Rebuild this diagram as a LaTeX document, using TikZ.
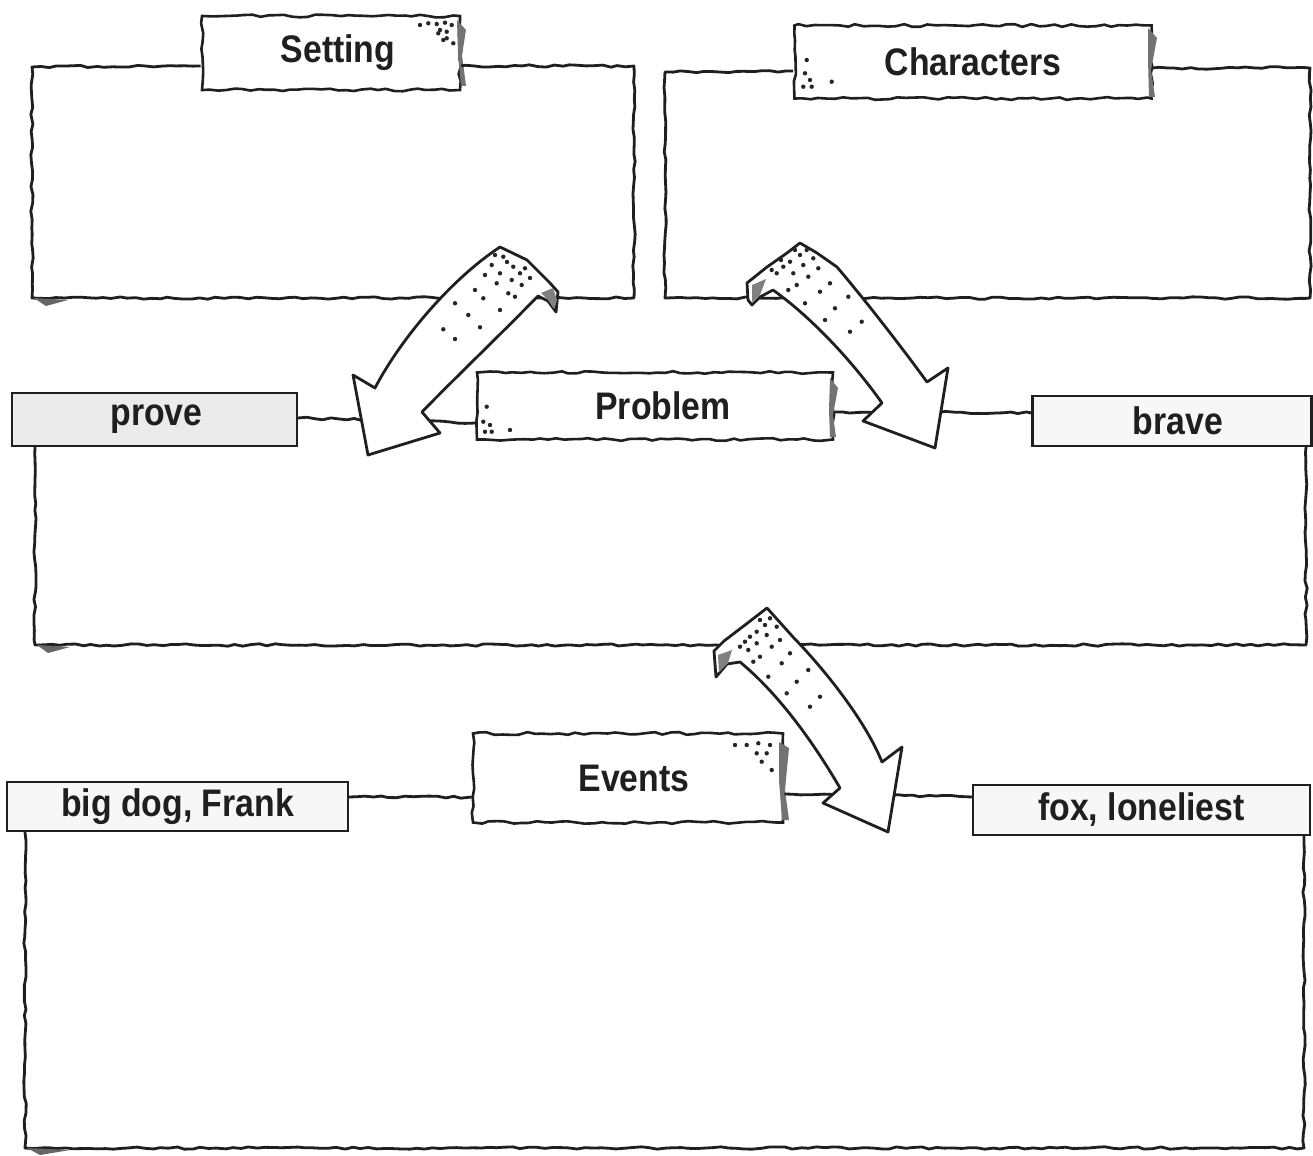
\documentclass[tikz,border=0pt]{standalone}
\usepackage{fontspec}
\newfontfamily\lblfont{Liberation Sans}[FakeStretch=0.88]
\usetikzlibrary{decorations.pathmorphing,calc}
\begin{document}
\begin{tikzpicture}[x=0.5pt,y=-0.5pt,
  frameline/.style={draw=black!88, line width=1.4pt, line join=round, decorate,
     decoration={random steps, segment length=4pt, amplitude=0.6pt}},
  lbltext/.style={font=\lblfont\bfseries\fontsize{19.2pt}{22pt}\selectfont, text=black!88},
  hdrbox/.style={lbltext, draw=black!88, line width=1.3pt, fill=white, inner sep=0pt, decorate,
     decoration={random steps, segment length=4pt, amplitude=0.7pt}},
  wordbox/.style={lbltext, draw=black!88, line width=1.1pt, fill=black!3, inner sep=0pt},
  bigarrow/.style={draw=black!88, line width=1.4pt, fill=white, line join=round},
  inkdot/.style={fill=black!85},
  tornedge/.style={fill=black!55}]
\pgfmathsetseed{7}
\useasboundingbox (0,0) rectangle (1313,1156);

% ---------- label nodes ----------
\node[hdrbox, minimum width=129pt, minimum height=37pt] (setting) at (331,53) {\hspace*{7pt}Setting};
\node[hdrbox, minimum width=178.5pt, minimum height=36.5pt] (characters) at (973,62) {Characters};
\node[hdrbox, minimum width=178pt, minimum height=33.5pt] (problem) at (655,406) {\hspace*{8pt}Problem};
\node[hdrbox, minimum width=155pt, minimum height=44.5pt] (events) at (628,778) {\hspace*{6pt}Events};

\node[wordbox, fill=black!8, minimum width=142.5pt, minimum height=26.5pt] (prove) at (154.5,419.5) {\hspace*{2pt}prove};
\node[wordbox, minimum width=139.5pt, minimum height=25pt] (brave) at (1172,421) {\hspace*{6pt}brave};
\node[wordbox, minimum width=170.5pt, minimum height=24.5pt] (bigdog) at (177.5,806.5) {big dog, Frank};
\node[wordbox, minimum width=168.5pt, minimum height=25pt] (fox) at (1141.5,810) {fox, loneliest};

% torn right edges of the header labels
\fill[tornedge] (457,20) -- (466,30) -- (462,55) -- (466,86) -- (461,86) -- (458,55) -- cycle;
\fill[tornedge] (1148,28) -- (1157,38) -- (1151,70) -- (1155,97) -- (1149,97) -- (1148,60) -- cycle;
\fill[tornedge] (830,378) -- (838,388) -- (833,415) -- (836,437) -- (830,437) -- (829,410) -- cycle;
\fill[tornedge] (779,742) -- (789,748) -- (785,790) -- (789,820) -- (782,820) -- (779,780) -- cycle;

% ---------- frames ----------
\draw[frameline] (setting.west |- 0,66) -- (32,67) -- (32,298) -- (634,298) -- (634,66) -- (setting.east |- 0,66);
\draw[frameline] (characters.west |- 0,71) -- (665,72) -- (665,298) -- (1310,298) -- (1310,68) -- (characters.east |- 0,68);

\draw[frameline] (prove.east |- 0,418) -- (problem.west |- 0,423);
\draw[frameline] (problem.east |- 0,412) -- (brave.west |- 0,413);
\draw[frameline] (35,0 |- prove.south) -- (35,645) -- (1306,645) -- (1306,0 |- brave.south);

\draw[frameline] (bigdog.east |- 0,797) -- (events.west |- 0,797);
\draw[frameline] (events.east |- 0,794) -- (fox.west |- 0,797);
\draw[frameline] (25,0 |- bigdog.south) -- (25,1148) -- (1304,1148) -- (1304,0 |- fox.south);

% shadows at bottom-left corners
\fill[black!60] (34,298) -- (68,300) -- (46,306) -- cycle;
\fill[black!60] (37,645) -- (70,647) -- (48,653) -- cycle;
\fill[black!60] (27,1148) -- (70,1150) -- (40,1155) -- cycle;

% ---------- arrows ----------
% Setting -> Problem
\draw[bigarrow] (500,247) -- (527,260) -- (550,283) -- (558,292) -- (556,312) -- (548,301) -- (538,296)
  .. controls (500,335) and (455,378) .. (422,412) -- (440,433) -- (368,455) -- (353,375) -- (375,388)
  .. controls (400,340) and (450,280) .. (500,247) -- cycle;
\fill[black!50] (541,293) -- (553,288) -- (557,300) -- (554,309) -- (548,300) -- cycle;
% Characters -> Problem
\draw[bigarrow] (800,243) -- (817,253) -- (837,267)
  .. controls (865,300) and (900,345) .. (927,382) -- (948,368) -- (935,448) -- (863,421) -- (882,403)
  .. controls (855,365) and (815,320) .. (773,290) -- (760,297) -- (752,305) -- (748,300) -- (747,283)
  -- (767,267) -- (787,253) -- cycle;
\fill[black!50] (752,285) -- (766,279) -- (760,295) -- (752,302) -- cycle;
% Problem -> Events
\draw[bigarrow] (767,608) -- (793,637)
  .. controls (825,670) and (865,720) .. (882,762) -- (902,747) -- (888,832) -- (823,803) -- (840,788)
  .. controls (815,745) and (780,695) .. (740,662) -- (727,664) -- (716,677) -- (714,651) -- (724,641)
  -- (745,625) -- cycle;
\fill[black!50] (718,655) -- (732,650) -- (728,663) -- (719,672) -- cycle;

% ---------- stipple dots ----------
\foreach \x/\y in {491.7/265, 503.3/256.7, 513.3/266.7, 500/273.3, 511.7/280, 520/273.3, 525/268.3,
  521.7/285, 508.3/293.3, 496.7/283.3, 485/275, 475/290, 483.3/298.3, 500/310, 468.3/315, 455/303.3,
  443.3/329.3, 455/339, 480/327.3, 515/296.7, 507/262, 530/278, 495/255}
  \fill[inkdot] (\x,\y) circle (1.1pt);
\foreach \x/\y in {806.7/250, 800/255, 790/261.7, 783.3/266.7, 776.7/273.3, 771.7/270, 793.3/273.3,
  803.3/265, 813.3/258.3, 818.3/268.3, 808.3/276.7, 796.7/285, 788.3/290, 805/303.3, 820/291.7,
  830/283.3, 848.3/296.7, 835/308.3, 825/320, 850/331.7, 861.7/321.7, 795/250, 781/260}
  \fill[inkdot] (\x,\y) circle (1.1pt);
\foreach \x/\y in {770/618.3, 765/625, 776.7/626.7, 756.7/631.7, 750/636.7, 745/641.7, 766.7/635,
  756.7/643.3, 748.3/650, 740/646.7, 780/640, 771.7/646.7, 760/656.7, 753.3/661.7, 790/653.3,
  781.7/663.3, 768.3/676.7, 808.3/670, 796.7/681.7, 786.7/693.3, 820/696.7, 810/706.7, 760/620}
  \fill[inkdot] (\x,\y) circle (1.1pt);
% header corner dots
\foreach \x/\y in {420/25, 428.3/23.3, 436.7/24, 445/22.7, 451.7/25, 440/30, 446.7/31.7, 438.3/33.3,
  446.7/38.3, 453.3/43.3, 443.3/40}
  \fill[inkdot] (\x,\y) circle (1.1pt);
\foreach \x/\y in {806.7/60, 805/73.3, 810/80, 803.3/86.7, 811.7/86.7, 831.7/81.7}
  \fill[inkdot] (\x,\y) circle (1.1pt);
\foreach \x/\y in {486.7/406.7, 483.3/421.7, 490/425, 485/431.7, 491.7/431.7, 510/430}
  \fill[inkdot] (\x,\y) circle (1.1pt);
\foreach \x/\y in {735/745, 746.7/745, 758.3/743.3, 770/745, 756.7/753.3, 766.7/753.3, 761.7/761.7, 771.7/770}
  \fill[inkdot] (\x,\y) circle (1.1pt);
\end{tikzpicture}
\end{document}
